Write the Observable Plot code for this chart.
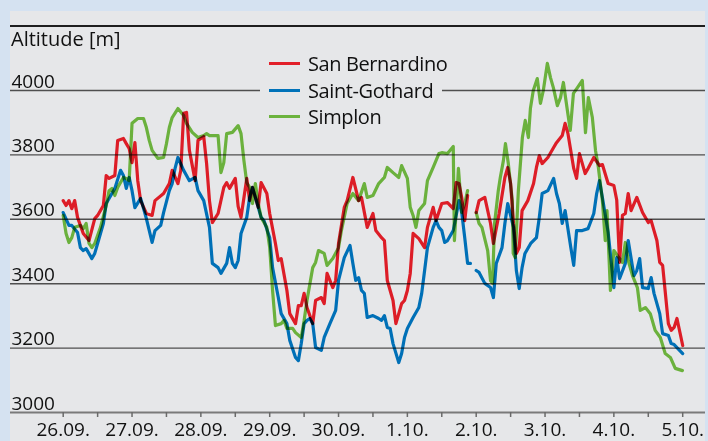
<!DOCTYPE html>
<html>
<head>
<meta charset="utf-8">
<script src="https://cdn.jsdelivr.net/npm/d3@7"></script>
<script src="https://cdn.jsdelivr.net/npm/@observablehq/plot@0.6"></script>
<style>
  html, body { margin: 0; padding: 0; }
  body { width: 708px; height: 441px; background: #d5e2f1; position: relative; overflow: hidden;
         font-family: "Open Sans", sans-serif; color: #111; }
  #panel { position: absolute; left: 10px; top: 11px; width: 695px; height: 430px; background: #e6e7e9; }
  #panel svg { position: absolute; left: 0; top: 0; }
  #topline { position: absolute; left: 10px; top: 25px; width: 695px; height: 2px; background: #1e1e1e; }
  #ylabel { position: absolute; left: 11px; top: 29px; font-size: 20px; line-height: 20px; white-space: nowrap; }
  #legend { position: absolute; left: 260px; top: 50px; width: 182px; height: 78px; background: #e6e7e9; }
  .row { position: absolute; left: 0; height: 27px; width: 182px; }
  .sw { position: absolute; left: 9px; top: 12px; width: 31px; height: 3px; }
  .lt { position: absolute; left: 48px; top: 0; font-size: 20px; line-height: 27px; letter-spacing: -0.4px; white-space: nowrap; }
</style>
</head>
<body>
<div id="panel"></div>
<div id="topline"></div>
<div id="ylabel">Altitude [m]</div>
<div id="legend"></div>
<script>
// Time in hours since 26.09. 00:00; altitude in metres (null = gap in record)
const seriesNames = ["San Bernardino", "Saint-Gothard", "Simplon"];
const seriesColors = ["#f5202a", "#007cc8", "#76c443"];
const legendColors = ["#e2202a", "#0072b9", "#6cb33e"];

const bernardinoHours = [0,1,2,3,4,5,7,9,11,12,14,15,16,18,19,21,22,23,24,25,26,27,29,31,32,35,37,38,40,41,42,43,44,46,47,49,50,51,52,54,56,57,58,60,61,62,64,65,66,68,69,71,72,74,75,76,78,79,81,82,83,84,85,87,88,90,91,92,94,95,96,98,99,101,103,104,106,108,109,111,112,113,115,116,118,119,120,121,122,124,126,127,129,130,132,134,136,137,138,139,140,141,142.5,144,145,147,149,150,152,154,155,156,157,158,159,160,162,164,165,166,167,169,171,172,174,175,176,178,179,180,182,183,185,187,188,190,192,193,194,195,196,197,198,200,202,204,205,206,207,208,209,211,212,213,214,216];
const bernardinoAlt = [3658,3643,3658,3633,3658,3606,3556,3534,3602,3612,3643,3736,3727,3736,3845,3851,3835,3820,3776,3838,3720,3658,3618,3612,3658,3680,3711,3752,3711,3752,3929,3932,3814,3720,3845,3857,3773,3658,3590,3618,3699,3714,3696,3727,3640,3606,3727,3658,3699,3637,3714,3680,3618,3525,3472,3478,3379,3307,3276,3332,3332,3370,3326,3276,3348,3357,3338,3432,3388,3410,3525,3637,3658,3730,3658,3668,3575,3618,3565,3543,3534,3410,3348,3276,3338,3348,3379,3432,3556,3540,3512,3575,3637,3596,3649,3652,3633,3714,3711,3665,3596,3674,null,3621,3658,3668,3587,3525,3618,3730,3761,3711,3587,3494,3512,3627,3658,3711,3761,3798,3773,3792,3823,3838,3860,3898,3866,3758,3727,3804,3742,3758,3792,3767,3770,3711,3705,3660,3466,3612,3618,3680,3627,3668,3621,3590,3596,3565,3534,3466,3457,3276,3255,3264,3292,3208];

const gothardHours = [0,2,3,5,6,7,8,10,11,12,14,15,17,18,20,21,22,23,24,25,27,28,29,31,32,34,35,37,38,39,40,42,43,44,46,47,49,51,52,54,55,57,58,59,60,61,62,64,65,66,68,69,70,72,73,75,76,78,79,81,82,83,84,85,86,87,88,90,91,93,95,96,98,100,101,102,103,104,105,106,108,110,111,112,113,114,115,117,118,119,120,122,124,125,126,127,129,130,131,132,133,134,136,138,139,140,141,142,143,144,145,147,149,150,151,153,154,155,157,158,159,160,161,163,165,166,167,169,171,172,173,174,175,177,178,179,181,183,185,186,187,188,190,192,193,194,196,197,199,200,201,202,204,205,206,208,209,211,212,213,216];
const gothardAlt = [3621,3581,3581,3559,3512,3503,3509,3478,3494,3525,3587,3649,3680,3696,3752,3736,3696,3730,3689,3636,3665,3634,3602,3528,3565,3581,3621,3689,3711,3758,3792,3752,3736,3720,3730,3689,3658,3575,3463,3450,3432,3463,3512,3463,3450,3472,3556,3606,3668,3699,3637,3606,3596,3543,3450,3357,3307,3276,3224,3171,3161,3214,3276,3286,3292,3276,3202,3193,3233,3276,3317,3410,3481,3519,3463,3410,3419,3379,3370,3295,3301,3292,3286,3301,3264,3261,3214,3155,3183,3233,3261,3295,3326,3370,3440,3512,3575,3596,3575,3565,3528,3534,3565,3658,3618,3543,3463,3463,null,3441,3435,3401,3388,3357,3463,3512,3587,3649,3575,3441,3385,3450,3494,3525,3543,3606,3680,3689,3727,3680,3649,3587,3627,3512,3457,3565,3565,3571,3618,3680,3720,3668,3560,3388,3481,3416,3463,3534,3425,3441,3478,3388,3385,3419,3370,3307,3245,3239,3214,3211,3183];

const simplonHours = [0,1,2,3,4,6,7,8,9,10,11,13,15,16,17,18,19,21,22,23,24,26,28,29,30,31,33,35,36,37,38,40,42,43,45,47,49,50,51,54,55,56,57,59,61,62,63,64,65,66,67,68,69,71,72,73,74,76,77,78,80,81,83,84,85,87,88,89,91,92,94,96,97,99,101,103,105,106,108,110,112,113,115,117,118,120,121,122,123,124,126,127,129,131,132,134,136,136.4,137.4,137.8,139,140,141,142.5,144,145,146,148,149,149.7,150.4,151.7,152.4,153.5,154.2,155.2,156.6,156.9,157.6,158.7,160.1,161.1,162.2,162.9,163.9,165.3,166.4,167.4,168.8,169.9,170.9,172.3,173.4,174.4,175.8,176.8,177.9,179.3,181,182.1,183.1,184.5,185.6,186.6,188,189,189.6,190.8,192,193.5,195,196,197,198.5,200.2,201.2,203,204.7,206.4,208.2,209.9,211.7,213.4,215.9];
const simplonAlt = [3612,3556,3528,3543,3575,3581,3571,3587,3525,3512,3525,3575,3643,3689,3696,3674,3699,3730,3727,3720,3898,3913,3913,3885,3845,3814,3789,3792,3835,3885,3916,3944,3922,3898,3870,3854,3860,3866,3860,3860,3745,3776,3866,3870,3891,3866,3783,3714,3699,3649,3711,3649,3606,3575,3512,3379,3270,3276,3286,3261,3261,3248,3233,3286,3348,3450,3466,3503,3494,3457,3478,3512,3565,3649,3680,3658,3711,3668,3674,3711,3730,3761,3745,3730,3767,3727,3637,3612,3575,3627,3649,3720,3761,3804,3807,3804,3826,3534,3689,3758,3621,3649,3689,null,3621,3587,3575,3503,3410,3401,3587,3689,3730,3783,3835,3773,3658,3494,3481,3689,3854,3907,3854,3944,4000,4037,3960,4000,4084,4040,4009,3953,3978,4025,3938,3876,3991,4009,4031,3869,3978,3916,3814,3761,3658,3534,3627,3379,3503,3484,3466,3528,3472,3425,3388,3317,3326,3307,3255,3233,3183,3171,3137,3130];

const yTicks = [3000, 3200, 3400, 3600, 3800, 4000];
const dayLabels = ["26.09.", "27.09.", "28.09.", "29.09.", "30.09.", "1.10.", "2.10.", "3.10.", "4.10.", "5.10."];
const dayHours = [0, 24, 48, 72, 96, 120, 144, 168, 192, 216];
const halfDayHours = [0, 12, 24, 36, 48, 60, 72, 84, 96, 108, 120, 132, 144, 156, 168, 180, 192, 204, 216];

const seriesHours = [bernardinoHours, gothardHours, simplonHours];
const seriesAlts = [bernardinoAlt, gothardAlt, simplonAlt];
const rowsFor = (k) => seriesHours[k].map((h, i) => ({h, alt: seriesAlts[k][i]}));

const extend = {insetLeft: -52.7, insetRight: -22.8};

const chart = Plot.plot({
  width: 695,
  height: 430,
  marginLeft: 52.7,
  marginRight: 22.8,
  marginTop: 79,
  marginBottom: 29,
  x: {domain: [0, 216], axis: null},
  y: {domain: [3000, 4000], axis: null},
  style: {background: "#e6e7e9", fontFamily: "'Open Sans', sans-serif", overflow: "visible", color: "#111"},
  marks: [
    Plot.ruleY(yTicks.filter(d => d > 3000), {y: d => d, stroke: "#4f4f4f", strokeWidth: 1.4, ...extend}),
    Plot.ruleY([3000], {y: d => d, stroke: "#7a7a7a", strokeWidth: 2, ...extend}),
    Plot.ruleX(halfDayHours, {x: d => d, insetTop: 322, insetBottom: -5, stroke: "#6a6a6a", strokeWidth: 1.5}),
    Plot.text(yTicks, {y: d => d, text: d => String(d), frameAnchor: "left", textAnchor: "start",
      lineAnchor: "bottom", dx: -51.7, dy: -3, fontSize: 19, fill: "#111"}),
    Plot.text(dayHours, {x: d => d, text: (d, i) => dayLabels[i], frameAnchor: "bottom",
      lineAnchor: "bottom", dy: 23, fontSize: 19, fill: "#111"}),
    ...[0, 1, 2].map(k => Plot.line(rowsFor(k), {x: "h", y: "alt", stroke: seriesColors[k], strokeWidth: 3.2,
      strokeLinejoin: "round", mixBlendMode: "multiply"}))
  ]
});
document.getElementById("panel").appendChild(chart);

const legend = document.getElementById("legend");
seriesNames.forEach((name, i) => {
  const row = document.createElement("div");
  row.className = "row";
  row.style.top = (i * 26.6) + "px";
  const sw = document.createElement("div");
  sw.className = "sw";
  sw.style.background = legendColors[i];
  const lt = document.createElement("div");
  lt.className = "lt";
  lt.textContent = name;
  row.appendChild(sw);
  row.appendChild(lt);
  legend.appendChild(row);
});
</script>
</body>
</html>
